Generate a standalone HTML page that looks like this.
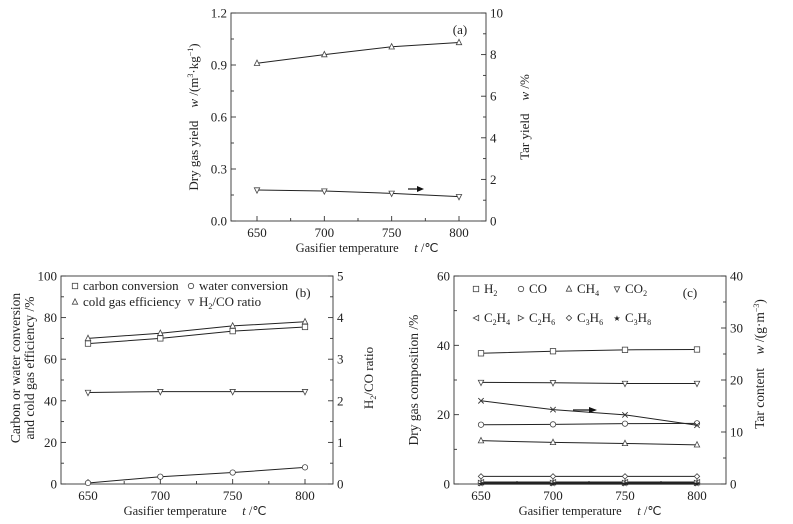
<!DOCTYPE html>
<html><head><meta charset="utf-8">
<style>
body{margin:0;background:#fff;}
svg{display:block;font-family:"Liberation Serif",serif;}
text{fill:#222;}
</style></head>
<body>
<svg id="svg" width="793" height="524" viewBox="0 0 793 524"></svg>
<script>
const temps=[650,700,750,800];
const xTicks=[650,700,750,800];
// chart a
const aDryGas=[0.91,0.96,1.005,1.03];
const aTar=[1.49,1.44,1.33,1.17];
const aLeftTicks=[0,0.3,0.6,0.9,1.2];
const aLeftLabels=["0.0","0.3","0.6","0.9","1.2"];
const aRightTicks=[0,2,4,6,8,10];
// chart b
const bCarbon=[67.5,70,73.5,75.5];
const bWater=[0.5,3.5,5.5,8];
const bCold=[70,72.5,76,78];
const bRatio=[2.2,2.22,2.22,2.22];
const bLeftTicks=[0,20,40,60,80,100];
const bRightTicks=[0,1,2,3,4,5];
// chart c
const cH2=[37.7,38.3,38.7,38.8];
const cCO=[17.1,17.2,17.4,17.5];
const cCH4=[12.5,12,11.7,11.3];
const cCO2=[29.3,29.2,29,29];
const cC2H4=[0.5,0.5,0.5,0.5];
const cC2H6=[0.3,0.3,0.3,0.3];
const cC3H6=[2.2,2.2,2.2,2.2];
const cC3H8=[0.1,0.1,0.1,0.1];
const cTar=[16,14.3,13.3,11.3];
const cLeftTicks=[0,20,40,60];
const cRightTicks=[0,10,20,30,40];

const NS="http://www.w3.org/2000/svg";
const svg=document.getElementById('svg');
function el(tag,attrs,parent,txt){const e=document.createElementNS(NS,tag);for(const k in attrs)e.setAttribute(k,attrs[k]);if(txt!==undefined)e.textContent=txt;(parent||svg).appendChild(e);return e;}

function marker(g,type,x,y){
  const s=2.7;let e;
  const st={fill:'#fff',stroke:'#444','stroke-width':0.8};
  if(type==='sq'){e=el('rect',Object.assign({x:x-s,y:y-s,width:2*s,height:2*s},st),g);}
  else if(type==='ci'){e=el('circle',Object.assign({cx:x,cy:y,r:s},st),g);}
  else if(type==='up'){e=el('polygon',Object.assign({points:`${x},${y-s-0.5} ${x-s},${y+s-0.5} ${x+s},${y+s-0.5}`},st),g);}
  else if(type==='dn'){e=el('polygon',Object.assign({points:`${x},${y+s+0.5} ${x-s},${y-s+0.5} ${x+s},${y-s+0.5}`},st),g);}
  else if(type==='lt'){e=el('polygon',Object.assign({points:`${x-s},${y} ${x+s},${y-s} ${x+s},${y+s}`},st),g);}
  else if(type==='rt'){e=el('polygon',Object.assign({points:`${x+s},${y} ${x-s},${y-s} ${x-s},${y+s}`},st),g);}
  else if(type==='di'){e=el('polygon',Object.assign({points:`${x},${y-s} ${x+s},${y} ${x},${y+s} ${x-s},${y}`},st),g);}
  else if(type==='x'){e=el('path',{d:`M${x-s},${y-s}L${x+s},${y+s}M${x-s},${y+s}L${x+s},${y-s}`,stroke:'#333','stroke-width':0.9},g);}
  else if(type==='st'){e=el('text',{x:x,y:y+3,'text-anchor':'middle','font-size':8},g,'★');}
  
  
  return e;
}

function makeChart(cfg){
  const g=el('g',{});
  
  
  const {L,R,T,B,x650,x800}=cfg;
  const xs=t=>x650+(t-650)*(x800-x650)/150;
  const yl=v=>B-(v-cfg.lmin)/(cfg.lmax-cfg.lmin)*(B-T);
  const yr=v=>B-v/cfg.rmax*(B-T);
  const frame=el('rect',{x:L,y:T,width:R-L,height:B-T,fill:'none',stroke:'#333','stroke-width':0.9},g);
  
  xTicks.forEach((t,i)=>{
    const x=xs(t);
    el('line',{x1:x,x2:x,y1:B,y2:B-5,stroke:'#333','stroke-width':0.9},g);
    if(i<xTicks.length-1){const xm=xs(t+25);el('line',{x1:xm,x2:xm,y1:B,y2:B-3,stroke:'#333','stroke-width':0.9},g);}
    const tx=el('text',{x:x,y:B+16,'text-anchor':'middle','font-size':13},g,String(t));
    
  });
  cfg.lticks.forEach((v,i)=>{
    const y=yl(v);
    el('line',{x1:L,x2:L+5,y1:y,y2:y,stroke:'#333','stroke-width':0.9},g);
    if(i<cfg.lticks.length-1){const ym=yl(v+(cfg.lticks[1]-cfg.lticks[0])/2);el('line',{x1:L,x2:L+3,y1:ym,y2:ym,stroke:'#333','stroke-width':0.9},g);}
    const tx=el('text',{x:L-4,y:y+4.5,'text-anchor':'end','font-size':13},g,cfg.llabels?cfg.llabels[i]:String(v));
    
  });
  cfg.rticks.forEach((v,i)=>{
    const y=yr(v);
    el('line',{x1:R,x2:R-5,y1:y,y2:y,stroke:'#333','stroke-width':0.9},g);
    if(i<cfg.rticks.length-1){const ym=yr(v+(cfg.rticks[1]-cfg.rticks[0])/2);el('line',{x1:R,x2:R-3,y1:ym,y2:ym,stroke:'#333','stroke-width':0.9},g);}
    const tx=el('text',{x:R+4,y:y+4.5,'text-anchor':'start','font-size':13},g,String(v));
    
  });
  cfg.series.forEach(s=>{
    const yf=s.right?yr:yl;
    const pts=temps.map((t,i)=>[xs(t),yf(s.data[i])]);
    const p=el('polyline',{points:pts.map(p=>p.join(',')).join(' '),fill:'none',stroke:'#222','stroke-width':s.w||1},g);
    
    pts.forEach(pt=>marker(g,s.m,pt[0],pt[1]));
  });
  const xl=el('text',{x:cfg.xlx,y:B+31,'text-anchor':'middle','font-size':12.5},g);
  
  xl.innerHTML='Gasifier temperature\u00a0\u00a0\u00a0\u00a0\u00a0<tspan font-style="italic">t</tspan> /℃';
  return {g,xs,yl,yr};
}

const A=makeChart({name:'chart-a',L:231,R:486,T:13,B:221,x650:257,x800:459,lmin:0,lmax:1.2,rmax:10,
 lticks:aLeftTicks,llabels:aLeftLabels,rticks:aRightTicks,xlx:367,
 series:[{name:'dry-gas-yield',data:aDryGas,m:'up'},{name:'tar-yield',data:aTar,m:'dn',right:true}]});
let t=el('text',{x:460,y:34,'text-anchor':'middle','font-size':13},A.g,'(a)');
el('path',{d:'M408,189L418,189',stroke:'#111','stroke-width':1.2},A.g);
el('polygon',{points:'417,186 424,189 417,192',fill:'#111'},A.g);
t=el('text',{transform:'translate(198,117) rotate(-90)','text-anchor':'middle','font-size':13},A.g);

t.innerHTML='Dry gas yield\u00a0\u00a0\u00a0\u00a0<tspan font-style="italic">w</tspan> /(m<tspan font-size="8" dy="-5">3</tspan><tspan dy="5">·kg</tspan><tspan font-size="8" dy="-5">−1</tspan><tspan dy="5">)</tspan>';
t=el('text',{transform:'translate(529,117) rotate(-90)','text-anchor':'middle','font-size':13},A.g);

t.innerHTML='Tar yield\u00a0\u00a0\u00a0\u00a0<tspan font-style="italic">w</tspan> /%';

const Bc=makeChart({name:'chart-b',L:61,R:333,T:276,B:484,x650:88,x800:305,lmin:0,lmax:100,rmax:5,
 lticks:bLeftTicks,rticks:bRightTicks,xlx:195,
 series:[{name:'carbon-conversion',data:bCarbon,m:'sq'},{name:'water-conversion',data:bWater,m:'ci'},
 {name:'cold-gas-efficiency',data:bCold,m:'up'},{name:'h2-co-ratio',data:bRatio,m:'dn',right:true}]});
function legend(g,m,x,y,html){
  const lg=el('g',{},g);
  marker(lg,m,x,y-4);
  const tx=el('text',{x:x+8,y:y,'font-size':13},lg);tx.innerHTML=html;
}
legend(Bc.g,'sq',75,290,'carbon conversion');
legend(Bc.g,'ci',191,290,'water conversion');
legend(Bc.g,'up',75,306,'cold gas efficiency');
legend(Bc.g,'dn',191,306,'H<tspan font-size="8" dy="3">2</tspan><tspan dy="-3">/CO ratio</tspan>');
t=el('text',{x:303,y:297,'text-anchor':'middle','font-size':13},Bc.g,'(b)');
t=el('text',{transform:'translate(20,368) rotate(-90)','text-anchor':'middle','font-size':13.5},Bc.g,'Carbon or water conversion');

t=el('text',{transform:'translate(34,368) rotate(-90)','text-anchor':'middle','font-size':13.5},Bc.g,'and cold gas efficiency /%');

t=el('text',{transform:'translate(373,378) rotate(-90)','text-anchor':'middle','font-size':13},Bc.g);

t.innerHTML='H<tspan font-size="8" dy="3">2</tspan><tspan dy="-3">/CO ratio</tspan>';

const Cc=makeChart({name:'chart-c',L:454,R:726,T:276,B:484,x650:481,x800:697,lmin:0,lmax:60,rmax:40,
 lticks:cLeftTicks,rticks:cRightTicks,xlx:590,
 series:[{name:'h2',data:cH2,m:'sq'},{name:'co',data:cCO,m:'ci'},{name:'ch4',data:cCH4,m:'up'},{name:'co2',data:cCO2,m:'dn'},
 {name:'c3h6',data:cC3H6,m:'di'},{name:'c2h4',data:cC2H4,m:'lt',w:1.5},{name:'c2h6',data:cC2H6,m:'rt',w:1.5},{name:'c3h8',data:cC3H8,m:'st',w:2},
 {name:'tar-content',data:cTar,m:'x',right:true}]});
const sub=(a,n,b)=>`${a}<tspan font-size="8" dy="3">${n}</tspan><tspan dy="-3">${b||''}</tspan>`;
legend(Cc.g,'sq',476,293,sub('H','2'));
legend(Cc.g,'ci',521,293,'CO');
legend(Cc.g,'up',569,293,sub('CH','4'));
legend(Cc.g,'dn',617,293,sub('CO','2'));
legend(Cc.g,'lt',476,322,sub('C','2','H')+'<tspan font-size="8" dy="3">4</tspan>');
legend(Cc.g,'rt',521,322,sub('C','2','H')+'<tspan font-size="8" dy="3">6</tspan>');
legend(Cc.g,'di',569,322,sub('C','3','H')+'<tspan font-size="8" dy="3">6</tspan>');
legend(Cc.g,'st',617,322,sub('C','3','H')+'<tspan font-size="8" dy="3">8</tspan>');
t=el('text',{x:690,y:297,'text-anchor':'middle','font-size':13},Cc.g,'(c)');
el('path',{d:'M573,410L590,410',stroke:'#111','stroke-width':1.2},Cc.g);
el('polygon',{points:'589,407 597,410 589,413',fill:'#111'},Cc.g);
t=el('text',{transform:'translate(418,380) rotate(-90)','text-anchor':'middle','font-size':13.5},Cc.g,'Dry gas composition /%');

t=el('text',{transform:'translate(764,364) rotate(-90)','text-anchor':'middle','font-size':13.5},Cc.g);

t.innerHTML='Tar content\u00a0\u00a0\u00a0\u00a0<tspan font-style="italic">w</tspan> /(g·m<tspan font-size="8" dy="-5">−3</tspan><tspan dy="5">)</tspan>';
</script>
</body></html>
